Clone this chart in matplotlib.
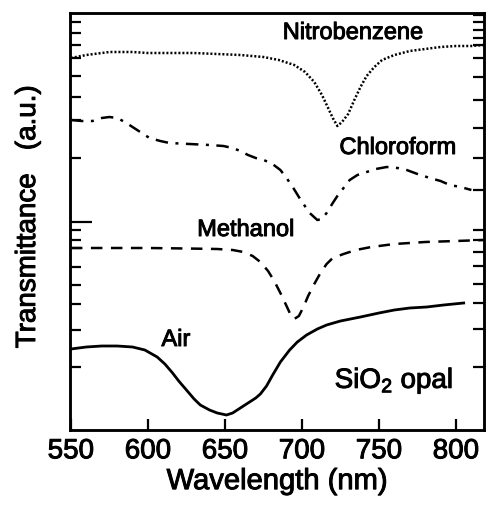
import matplotlib
matplotlib.use("Agg")
import matplotlib.pyplot as plt
import matplotlib.patheffects as pe
import numpy as np

plt.rcParams['font.family'] = ['Liberation Sans', 'DejaVu Sans']
plt.rcParams['mathtext.fontset'] = 'custom'
plt.rcParams['mathtext.rm'] = 'Liberation Sans'
plt.rcParams['mathtext.it'] = 'Liberation Sans'

TOP = 430  # transmittance (a.u.) reference level

# Nitrobenzene (dotted)
nitro_wl = [550, 560, 575, 590, 600, 615, 630, 645, 660, 675, 685, 695, 702, 708, 713, 717,
            720, 723, 726, 730, 734, 738, 742, 747, 752, 760, 770, 780, 790, 800, 810, 818]
nitro_py = [58, 55, 52, 52, 53, 53, 53, 54, 55, 57, 60, 65, 72, 82, 95, 108,
            118, 126, 122, 114, 100, 87, 76, 67, 60, 55, 51, 49, 47, 46, 46, 45]

# Chloroform (dash-dot)
chloro_wl = [550, 557, 564, 570, 575, 580, 585, 590, 595, 601, 608, 614, 627, 640, 649, 655,
             660, 665, 670, 675, 680, 686, 690, 694, 698, 701, 705, 710, 713, 716, 720, 723,
             727, 731, 736, 742, 748, 755, 762, 768, 775, 783, 790, 796, 803, 810]
chloro_py = [120, 121, 121, 118, 117, 118, 122, 127, 132, 138, 141, 143, 144, 145, 146, 148,
             151, 155, 158, 160, 163, 170, 178, 187, 197, 204, 213, 220, 219, 213, 203, 196,
             188, 180, 175, 172, 169, 167, 168, 170, 174, 178, 181, 185, 187, 190]

# Methanol (dashed)
meth_wl = [550, 575, 600, 625, 645, 655, 662, 668, 673, 678, 682, 686, 690, 693, 695, 698,
           701, 704, 708, 712, 716, 720, 727, 735, 745, 760, 780, 800, 818]
meth_py = [248, 248, 248, 248.5, 249, 250, 252, 256, 262, 271, 281, 293, 306, 316, 319, 316,
           307, 296, 284, 273, 264, 258, 254, 250, 247, 244, 242, 241, 240]

# Air (solid)
air_wl = [550, 560, 570, 580, 590, 598, 606, 611, 616, 620, 625, 630, 634, 640, 645, 651,
          655, 658, 662, 666, 670, 673, 677, 681, 686, 692, 697, 703, 710, 716, 725, 738,
          750, 760, 770, 781, 792, 805]
air_py = [349, 347, 346, 346, 347, 350, 357, 364, 373, 381, 390, 399, 405, 410, 413, 415,
          413, 410, 406, 402, 398, 394, 386, 375, 362, 350, 342, 335, 329, 325, 321, 317,
          313, 310, 308, 307, 305, 303]

x_ticks = [550, 600, 650, 700, 750, 800]
left_ticks_py = [22, 33, 45, 58, 76, 97, 120, 158, 230, 240, 248, 267, 285, 304, 330, 367]
right_ticks_py = [15, 22, 30, 38, 45, 58, 77, 100, 128, 158, 190, 230, 240, 252, 266, 284, 303, 329, 367]
major_py = [222]

def tr(v):
    return TOP - np.asarray(v, dtype=float)

heavy = [pe.withStroke(linewidth=0.7, foreground='black')]

fig = plt.figure(figsize=(4.87, 5.05), dpi=100)
ax = fig.add_axes([70/487, 1-430/505, (484-70)/487, (430-13)/505])

lw = 1.8
ax.plot(nitro_wl, tr(nitro_py), color='black', lw=lw, linestyle=(0, (0.8, 0.8)))
ax.plot(chloro_wl, tr(chloro_py), color='black', lw=lw, linestyle=(0, (5.0, 3.0, 1.2, 3.0)))
ax.plot(meth_wl, tr(meth_py), color='black', lw=lw, linestyle=(0, (4.6, 3.4)))
ax.plot(air_wl, tr(air_py), color='black', lw=lw + 0.2, linestyle='-')

ax.set_xlim(549.4, 818.2)
ax.set_ylim(0, TOP - 13)

ax.set_xticks(x_ticks)
ax.set_xticklabels([str(t) for t in x_ticks], fontsize=20)
for lab in ax.get_xticklabels():
    lab.set_path_effects(heavy)
ax.tick_params(axis='x', direction='in', length=8, width=1.6, pad=6, top=False)

ax.set_yticks(tr(major_py))
ax.set_yticklabels([])
ax.tick_params(axis='y', which='major', direction='in', length=16, width=1.6, left=True, right=True)

ax.yaxis.set_minor_locator(matplotlib.ticker.FixedLocator(sorted(set(tr(left_ticks_py)))))
ax.tick_params(axis='y', which='minor', direction='in', length=8, width=1.6, left=True, right=False)
ax2 = ax.twinx()
ax2.set_ylim(ax.get_ylim())
ax2.set_yticks([])
ax2.yaxis.set_minor_locator(matplotlib.ticker.FixedLocator(sorted(set(tr(right_ticks_py)))))
ax2.tick_params(axis='y', which='minor', direction='in', length=8, width=1.6, left=False, right=True)
ax2.set_yticklabels([])
for a in (ax, ax2):
    for s in a.spines.values():
        s.set_linewidth(1.8)

xl = ax.set_xlabel('Wavelength (nm)', fontsize=21, labelpad=2)
xl.set_path_effects(heavy)
fig.text(28/487, 1-217/505, 'Transmittance   (a.u.)', rotation=90, fontsize=20,
         ha='center', va='center', path_effects=heavy)

ax.text(733.1, tr(33), 'Nitrobenzene', fontsize=17, ha='center', va='center', path_effects=heavy)
ax.text(762.3, tr(148), 'Chloroform', fontsize=17, ha='center', va='center', path_effects=heavy)
ax.text(663.6, tr(230), 'Methanol', fontsize=17, ha='center', va='center', path_effects=heavy)
ax.text(618.2, tr(340), 'Air', fontsize=17, ha='center', va='center', path_effects=heavy)
ax.text(759.7, tr(388), r'SiO$_2$ opal', fontsize=20, ha='center', va='baseline', path_effects=heavy)

fig.savefig('out.png', dpi=100)
